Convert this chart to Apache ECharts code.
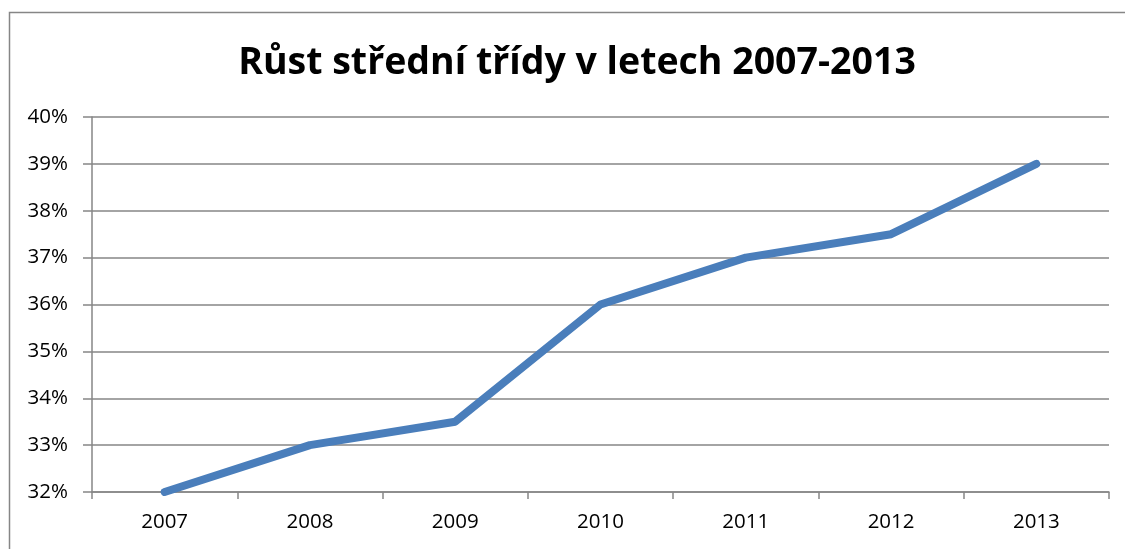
<!DOCTYPE html>
<html>
<head>
<meta charset="utf-8">
<script src="https://cdn.jsdelivr.net/npm/echarts@6/dist/echarts.min.js"></script>
<style>
	html, body { margin: 0; padding: 0; background: #fff; }
	#chart { width: 1125px; height: 549px; }
</style>
</head>
<body>
<div id="chart"></div>
<script>
var years = ['2007', '2008', '2009', '2010', '2011', '2012', '2013'];
var middleClass = [32, 33, 33.5, 36, 37, 37.5, 39];
var chartTitle = 'Růst střední třídy v letech 2007-2013';

function initGraph(chartId) {
	var myChart = echarts.init(document.getElementById(chartId));
	var option = {
		animation: false,
		title: {
			text: chartTitle,
			left: 572,
			top: 39,
			textAlign: 'center',
			textStyle: {
				fontFamily: 'Open Sans',
				fontWeight: 'bold',
				fontSize: 37.5,
				color: '#000'
			}
		},
		graphic: [{
			type: 'rect',
			shape: { x: 9.5, y: 12.5, width: 1200, height: 600 },
			style: { fill: 'none', stroke: '#868686', lineWidth: 1.5 },
			silent: true
		}],
		grid: {
			left: 92,
			right: 16,
			top: 117,
			bottom: 57
		},
		xAxis: {
			type: 'category',
			boundaryGap: true,
			data: years,
			axisLine: { lineStyle: { color: '#868686', width: 1.5 } },
			axisTick: { show: true, length: 7, inside: false, lineStyle: { color: '#868686', width: 1.5 } },
			axisLabel: {
				color: '#000',
				fontSize: 20.5,
				fontFamily: 'Open Sans',
				margin: 20
			}
		},
		yAxis: {
			type: 'value',
			min: 32,
			max: 40,
			interval: 1,
			axisLine: { show: true, lineStyle: { color: '#868686', width: 1.5 } },
			axisTick: { show: true, length: 9, lineStyle: { color: '#868686', width: 1.5 } },
			axisLabel: {
				color: '#000',
				fontSize: 20.5,
				fontFamily: 'Open Sans',
				margin: 24,
				formatter: '{value}%'
			},
			splitLine: {
				show: true,
				lineStyle: { color: '#868686', width: 1.5 }
			}
		},
		series: [{
			name: 'Střední třída',
			type: 'line',
			data: middleClass,
			symbol: 'none',
			lineStyle: { color: '#4a7ebb', width: 8, cap: 'round', join: 'round' }
		}]
	};
	myChart.setOption(option, true);
}

onload = function() {
	initGraph('chart');
};
</script>
</body>
</html>
